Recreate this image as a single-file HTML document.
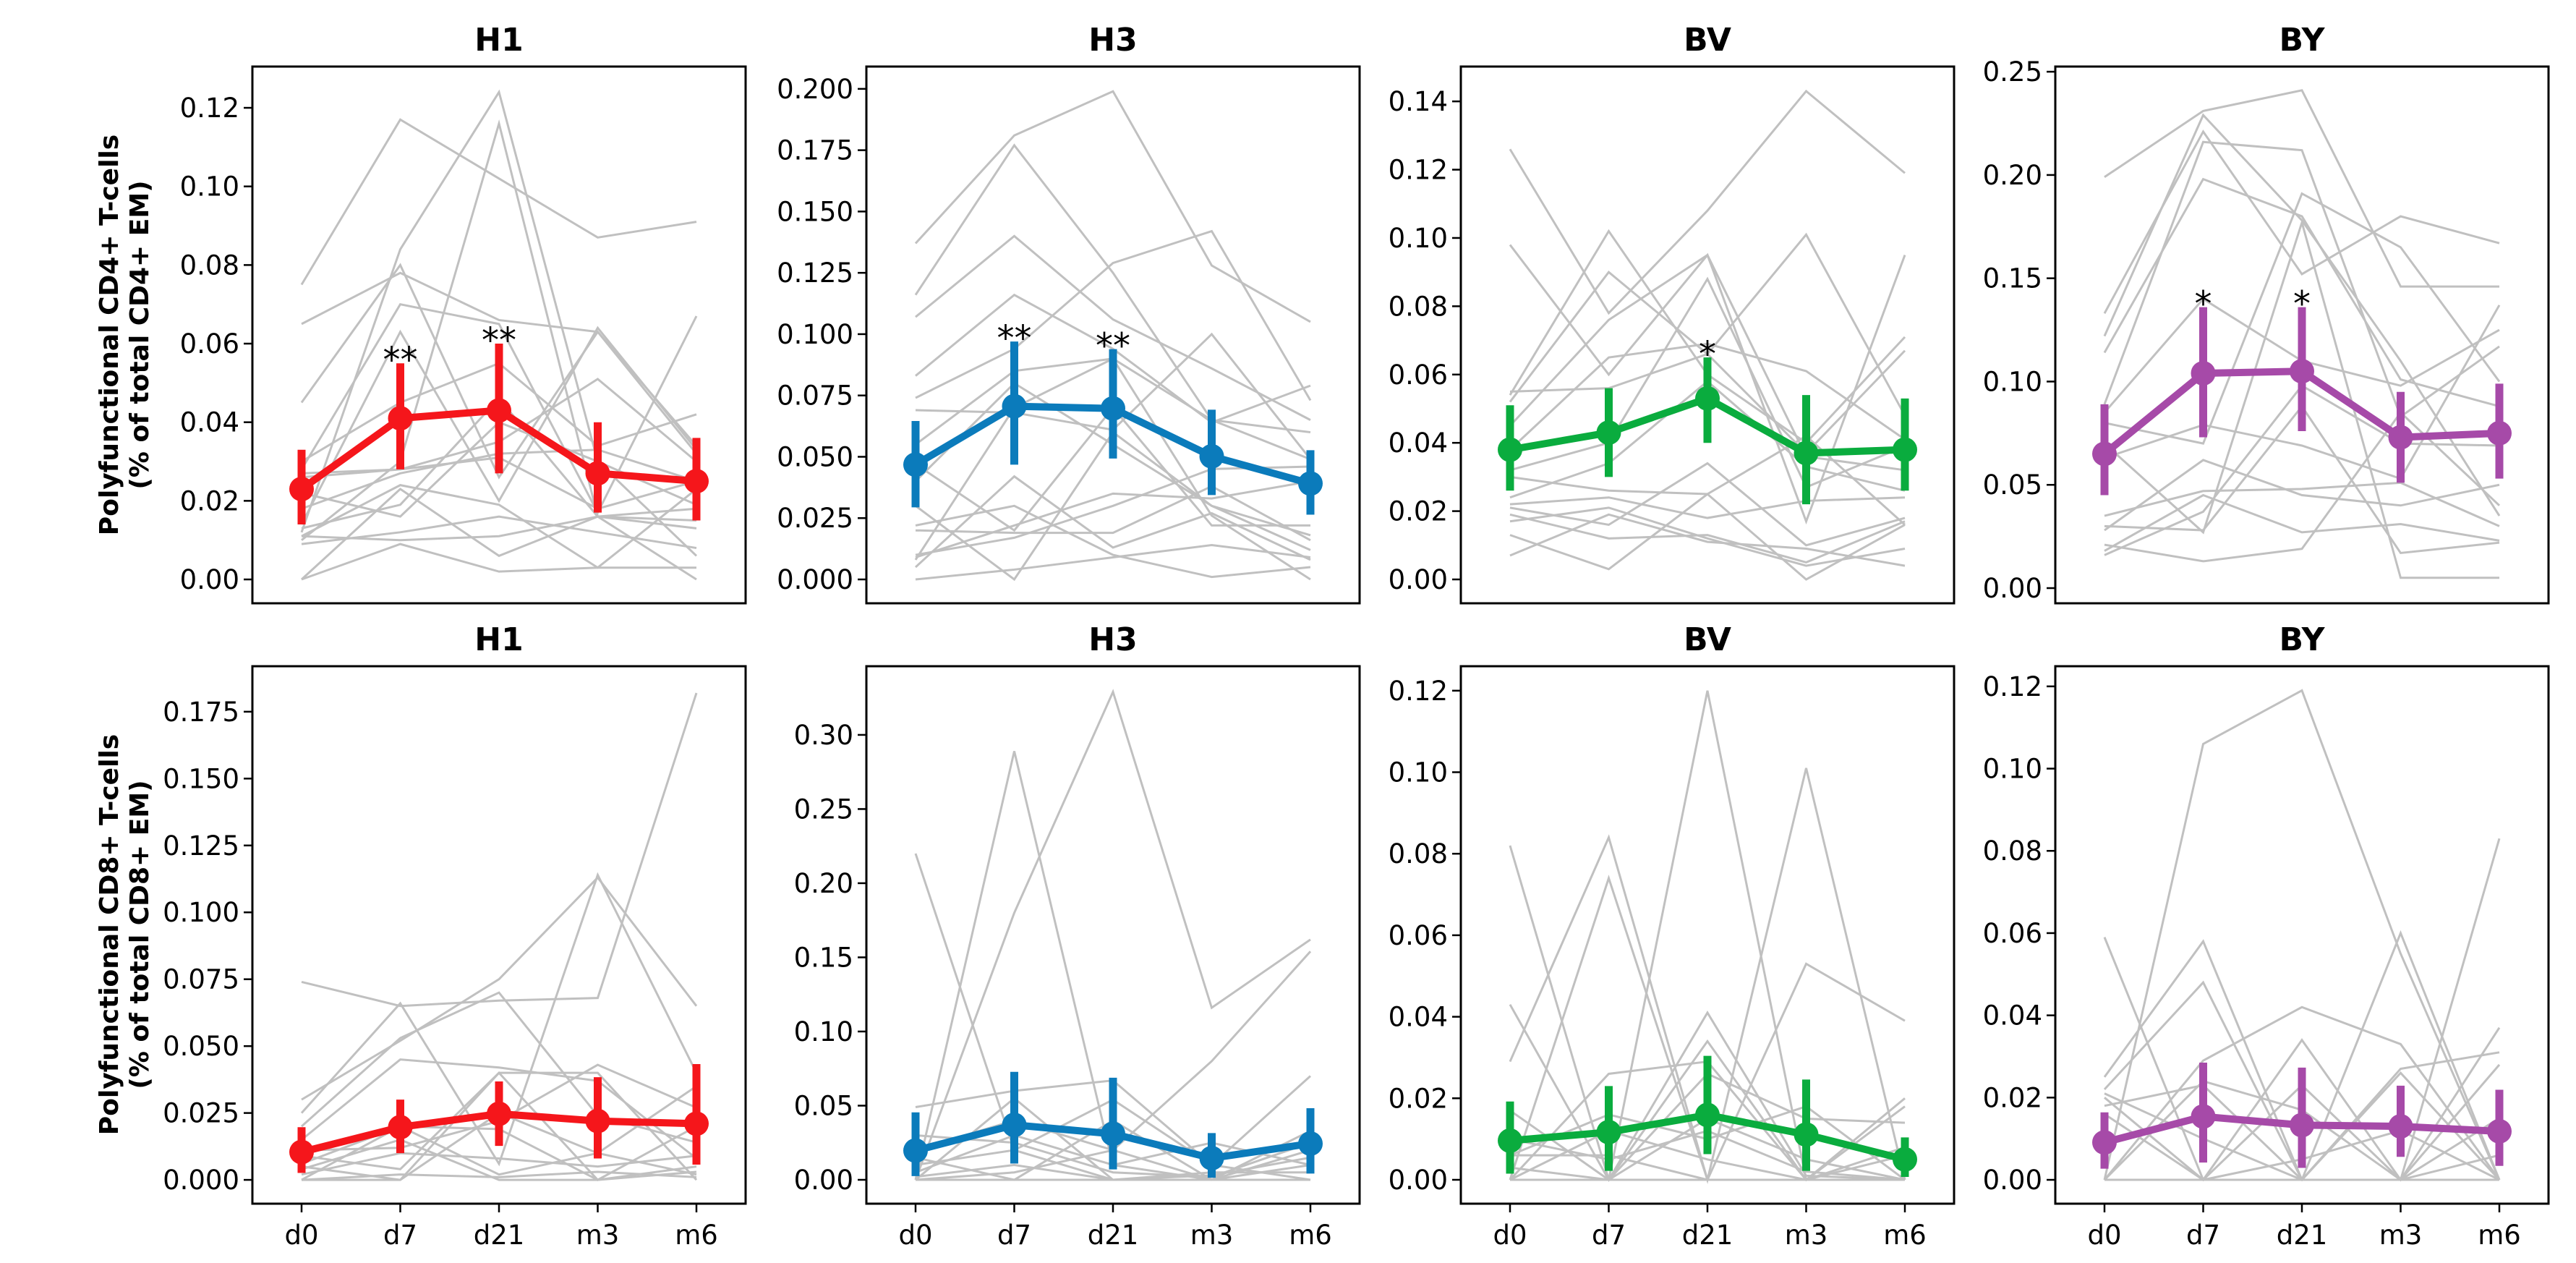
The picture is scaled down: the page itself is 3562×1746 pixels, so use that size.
<!DOCTYPE html>
<html><head><meta charset="utf-8"><style>
html,body{margin:0;padding:0;background:#fff;}
svg{display:block;font-family:"DejaVu Sans","Liberation Sans",sans-serif;}
</style></head><body>
<svg id="fig" width="3562" height="1746" viewBox="0 0 3562 1746" xmlns="http://www.w3.org/2000/svg">
<rect width="3562" height="1746" fill="#fff"/>
<text transform="translate(163,463) rotate(-90)" text-anchor="middle" font-weight="bold" font-size="36">Polyfunctional CD4+ T-cells</text>
<text transform="translate(205,463) rotate(-90)" text-anchor="middle" font-weight="bold" font-size="36">(% of total CD4+ EM)</text>
<text transform="translate(163,1292) rotate(-90)" text-anchor="middle" font-weight="bold" font-size="36">Polyfunctional CD8+ T-cells</text>
<text transform="translate(205,1292) rotate(-90)" text-anchor="middle" font-weight="bold" font-size="36">(% of total CD8+ EM)</text>
</svg>
<script>
const categories = ["d0","d7","d21","m3","m6"];
const titles = ["H1","H3","BV","BY"];
const colors = ["#f5161b","#0b7bbb","#0aac3e","#a64aa8"];

const meanTopH1 = [0.023,0.041,0.043,0.027,0.025];
const lowTopH1 = [0.014,0.028,0.027,0.017,0.015];
const highTopH1 = [0.033,0.055,0.060,0.040,0.036];
const meanTopH3 = [0.0468,0.0706,0.0697,0.0502,0.0391];
const lowTopH3 = [0.0294,0.0468,0.0493,0.0344,0.0264];
const highTopH3 = [0.0646,0.097,0.0939,0.0692,0.0527];
const meanTopBV = [0.038,0.043,0.053,0.037,0.038];
const lowTopBV = [0.026,0.030,0.040,0.022,0.026];
const highTopBV = [0.051,0.056,0.065,0.054,0.053];
const meanTopBY = [0.065,0.104,0.105,0.073,0.075];
const lowTopBY = [0.045,0.073,0.076,0.051,0.053];
const highTopBY = [0.089,0.136,0.136,0.095,0.099];

const meanBotH1 = [0.0104,0.0197,0.0247,0.022,0.021];
const lowBotH1 = [0.0026,0.010,0.0127,0.008,0.0057];
const highBotH1 = [0.0197,0.030,0.0368,0.0384,0.0433];
const meanBotH3 = [0.0197,0.037,0.031,0.0146,0.0244];
const lowBotH3 = [0.0025,0.011,0.007,0.0014,0.0042];
const highBotH3 = [0.0455,0.0728,0.0688,0.0315,0.0483];
const meanBotBV = [0.0096,0.0117,0.0159,0.0111,0.005];
const lowBotBV = [0.0015,0.0022,0.0063,0.0022,0.0007];
const highBotBV = [0.0192,0.023,0.0304,0.0246,0.0104];
const meanBotBY = [0.0091,0.0154,0.0133,0.013,0.0118];
const lowBotBY = [0.0027,0.0042,0.0029,0.0056,0.0034];
const highBotBY = [0.0164,0.0285,0.0273,0.0229,0.0219];

const starsTopH1 = ["","**","**","",""];
const starsTopH3 = ["","**","**","",""];
const starsTopBV = ["","","*","",""];
const starsTopBY = ["","*","*","",""];
const starsNone = ["","","","",""];

const ticksTopH1 = ["0.00","0.02","0.04","0.06","0.08","0.10","0.12"];
const ticksTopH3 = ["0.000","0.025","0.050","0.075","0.100","0.125","0.150","0.175","0.200"];
const ticksTopBV = ["0.00","0.02","0.04","0.06","0.08","0.10","0.12","0.14"];
const ticksTopBY = ["0.00","0.05","0.10","0.15","0.20","0.25"];
const ticksBotH1 = ["0.000","0.025","0.050","0.075","0.100","0.125","0.150","0.175"];
const ticksBotH3 = ["0.00","0.05","0.10","0.15","0.20","0.25","0.30"];
const ticksBotBV = ["0.00","0.02","0.04","0.06","0.08","0.10","0.12"];
const ticksBotBY = ["0.00","0.02","0.04","0.06","0.08","0.10","0.12"];

const ylimTop = [[-0.00607,0.1305],[-0.00973,0.2091],[-0.00699,0.1502],[-0.00735,0.2525]];
const ylimBot = [[-0.0089,0.192],[-0.0161,0.3463],[-0.00586,0.126],[-0.0058,0.1249]];

const subjTopH1 = [
[0.075,0.117,0.102,0.087,0.091],[0.065,0.078,0.066,0.063,0.034],[0.045,0.080,0.026,0.063,0.032],
[0.012,0.084,0.124,0.030,0.006],[0.010,0.030,0.116,0.016,0.018],[0.028,0.070,0.065,0.017,0.067],
[0.014,0.063,0.020,0.064,0.033],[0.030,0.045,0.055,0.034,0.042],[0.027,0.028,0.035,0.051,0.030],
[0.022,0.016,0.040,0.030,0.019],[0.013,0.019,0.046,0.016,0.015],[0.011,0.010,0.011,0.016,0.013],
[0.009,0.012,0.016,0.012,0.008],[0.000,0.009,0.002,0.003,0.003],[0.000,0.023,0.006,0.016,0.000],
[0.018,0.027,0.032,0.033,0.025],[0.011,0.024,0.019,0.003,0.023],[0.026,0.028,0.031,0.018,0.025]];
const subjTopH3 = [
[0.137,0.181,0.199,0.128,0.105],[0.116,0.177,0.125,0.065,0.060],[0.107,0.140,0.106,0.086,0.065],
[0.083,0.116,0.094,0.064,0.079],[0.074,0.094,0.129,0.142,0.073],[0.069,0.068,0.061,0.100,0.049],
[0.055,0.085,0.090,0.065,0.049],[0.047,0.020,0.070,0.022,0.022],[0.040,0.080,0.055,0.030,0.018],
[0.030,0.000,0.060,0.030,0.012],[0.020,0.019,0.019,0.038,0.016],[0.010,0.017,0.030,0.045,0.046],
[0.009,0.022,0.035,0.033,0.040],[0.005,0.042,0.013,0.027,0.008],[0.000,0.004,0.009,0.014,0.009],
[0.022,0.030,0.010,0.001,0.005],[0.008,0.070,0.090,0.026,0.000]];
const subjTopBV = [
[0.126,0.078,0.108,0.143,0.119],[0.098,0.060,0.095,0.017,0.095],[0.055,0.056,0.066,0.101,0.048],
[0.054,0.102,0.060,0.040,0.071],[0.052,0.090,0.066,0.037,0.067],[0.045,0.076,0.095,0.036,0.032],
[0.038,0.065,0.069,0.061,0.041],[0.032,0.040,0.088,0.027,0.039],[0.030,0.026,0.025,0.042,0.016],
[0.022,0.024,0.018,0.023,0.024],[0.021,0.016,0.034,0.010,0.018],[0.019,0.012,0.013,0.005,0.017],
[0.017,0.021,0.012,0.004,0.009],[0.013,0.003,0.025,0.000,0.016],[0.007,0.019,0.011,0.009,0.004],
[0.024,0.034,0.058,0.033,0.026]];
const subjTopBY = [
[0.199,0.231,0.241,0.146,0.146],[0.122,0.229,0.178,0.110,0.035],[0.133,0.221,0.152,0.180,0.167],
[0.114,0.198,0.180,0.101,0.088],[0.089,0.216,0.212,0.083,0.117],[0.085,0.140,0.110,0.098,0.125],
[0.080,0.070,0.191,0.165,0.100],[0.070,0.027,0.177,0.005,0.005],[0.063,0.079,0.069,0.053,0.137],
[0.035,0.047,0.048,0.051,0.030],[0.030,0.028,0.088,0.017,0.022],[0.028,0.062,0.045,0.040,0.050],
[0.021,0.013,0.019,0.085,0.040],[0.018,0.045,0.027,0.031,0.023],[0.016,0.037,0.098,0.070,0.069]];
const subjBotH1 = [
[0.074,0.065,0.067,0.068,0.182],[0.030,0.052,0.075,0.113,0.065],[0.025,0.066,0.006,0.114,0.040],
[0.020,0.053,0.070,0.024,0.014],[0.015,0.045,0.042,0.037,0.008],[0.011,0.012,0.022,0.043,0.027],
[0.005,0.000,0.040,0.040,0.000],[0.009,0.004,0.040,0.000,0.020],[0.002,0.010,0.008,0.005,0.009],
[0.000,0.002,0.001,0.003,0.001],[0.000,0.000,0.025,0.010,0.035],[0.006,0.020,0.002,0.010,0.002],
[0.004,0.015,0.000,0.000,0.003],[0.000,0.020,0.019,0.000,0.005]];
const subjBotH3 = [
[0.220,0.020,0.000,0.000,0.010],[0.049,0.060,0.067,0.010,0.000],[0.000,0.289,0.010,0.000,0.033],
[0.000,0.180,0.329,0.116,0.162],[0.020,0.040,0.020,0.080,0.154],[0.010,0.020,0.054,0.010,0.070],
[0.005,0.030,0.010,0.025,0.010],[0.000,0.055,0.000,0.005,0.005],[0.015,0.000,0.040,0.000,0.020],
[0.002,0.010,0.000,0.003,0.015],[0.000,0.005,0.020,0.000,0.000],[0.030,0.025,0.005,0.002,0.025],
[0.000,0.000,0.000,0.000,0.000]];
const subjBotBV = [
[0.082,0.000,0.120,0.000,0.000],[0.043,0.000,0.041,0.001,0.000],[0.029,0.084,0.000,0.101,0.000],
[0.000,0.074,0.000,0.053,0.039],[0.000,0.026,0.029,0.000,0.020],[0.017,0.000,0.034,0.000,0.018],
[0.006,0.016,0.010,0.018,0.000],[0.000,0.000,0.026,0.015,0.014],[0.006,0.006,0.000,0.000,0.008],
[0.000,0.012,0.005,0.000,0.006],[0.003,0.000,0.015,0.005,0.000],[0.000,0.000,0.000,0.000,0.000],
[0.010,0.005,0.012,0.002,0.000]];
const subjBotBY = [
[0.059,0.000,0.000,0.060,0.000],[0.000,0.106,0.119,0.055,0.000],[0.025,0.058,0.000,0.000,0.083],
[0.022,0.048,0.000,0.000,0.037],[0.000,0.029,0.042,0.033,0.000],[0.018,0.023,0.000,0.027,0.031],
[0.020,0.000,0.034,0.000,0.028],[0.000,0.024,0.017,0.000,0.015],[0.021,0.010,0.000,0.026,0.000],
[0.000,0.000,0.023,0.000,0.006],[0.016,0.000,0.005,0.012,0.000],[0.000,0.000,0.000,0.000,0.000]];

const NS = "http://www.w3.org/2000/svg";
const svg = document.getElementById("fig");
const colLeft = [349,1198,2020,2842];
const panelW = 682;
const rows = [{top:92,bottom:834,titleY:70},{top:921,bottom:1664,titleY:899}];

function mk(tag, attrs, parent){
  const e = document.createElementNS(NS, tag);
  for (const k in attrs) e.setAttribute(k, attrs[k]);
  (parent||svg).appendChild(e);
  return e;
}

function drawPanel(r, c, subj, mean, low, high, stars, ticks, ylim, showX){
  const row = rows[r];
  const L = colLeft[c], R = L + panelW, T = row.top, B = row.bottom;
  const g = mk("g", {});
  
  
  const xScale = i => L + 68 + i * 136.5;
  const yScale = v => B - (v - ylim[0]) / (ylim[1] - ylim[0]) * (B - T);

  const title = mk("text", {x:(L+R)/2, y:row.titleY, "text-anchor":"middle", "font-weight":"bold", "font-size":"44"}, g);
  title.textContent = titles[c];
  
  

  subj.forEach((s) => {
    const pl = mk("polyline", {points: s.map((v,i)=>xScale(i)+","+yScale(v)).join(" "), fill:"none", stroke:"#c0c0c0", "stroke-width":"3"}, g);
    
    
  });

  ticks.forEach((t) => {
    const v = parseFloat(t);
    const y = yScale(v);
    const tk = mk("line", {x1:L-12, x2:L, y1:y, y2:y, stroke:"#000", "stroke-width":"2.5"}, g);
    
    
    const tl = mk("text", {x:L-18, y:y+13, "text-anchor":"end", "font-size":"37"}, g);
    tl.textContent = t;
    
    
  });

  if (showX) {
    categories.forEach((cat, i) => {
      const x = xScale(i);
      const tk = mk("line", {x1:x, x2:x, y1:B, y2:B+12, stroke:"#000", "stroke-width":"2.5"}, g);
      
      
      const tl = mk("text", {x:x, y:B+56, "text-anchor":"middle", "font-size":"37"}, g);
      tl.textContent = cat;
      
      
    });
  }

  const col = colors[c];
  mean.forEach((m, i) => {
    const eb = mk("line", {x1:xScale(i), x2:xScale(i), y1:yScale(low[i]), y2:yScale(high[i]), stroke:col, "stroke-width":"11"}, g);
    
    
  });
  const ml = mk("polyline", {points: mean.map((v,i)=>xScale(i)+","+yScale(v)).join(" "), fill:"none", stroke:col, "stroke-width":"10", "stroke-linejoin":"round"}, g);
  
  
  mean.forEach((m, i) => {
    const pt = mk("circle", {cx:xScale(i), cy:yScale(m), r:"17", fill:col}, g);
    
    
    if (stars[i]) {
      const st = mk("text", {x:xScale(i), y:yScale(high[i]) + 12, "text-anchor":"middle", "font-size":"48"}, g);
      st.textContent = stars[i];
      
      
    }
  });

  const fr = mk("rect", {x:L, y:T, width:R-L, height:B-T, fill:"none", stroke:"#000", "stroke-width":"3"}, g);
  
  
}

drawPanel(0,0,subjTopH1,meanTopH1,lowTopH1,highTopH1,starsTopH1,ticksTopH1,ylimTop[0],false);
drawPanel(0,1,subjTopH3,meanTopH3,lowTopH3,highTopH3,starsTopH3,ticksTopH3,ylimTop[1],false);
drawPanel(0,2,subjTopBV,meanTopBV,lowTopBV,highTopBV,starsTopBV,ticksTopBV,ylimTop[2],false);
drawPanel(0,3,subjTopBY,meanTopBY,lowTopBY,highTopBY,starsTopBY,ticksTopBY,ylimTop[3],false);
drawPanel(1,0,subjBotH1,meanBotH1,lowBotH1,highBotH1,starsNone,ticksBotH1,ylimBot[0],true);
drawPanel(1,1,subjBotH3,meanBotH3,lowBotH3,highBotH3,starsNone,ticksBotH3,ylimBot[1],true);
drawPanel(1,2,subjBotBV,meanBotBV,lowBotBV,highBotBV,starsNone,ticksBotBV,ylimBot[2],true);
drawPanel(1,3,subjBotBY,meanBotBY,lowBotBY,highBotBY,starsNone,ticksBotBY,ylimBot[3],true);
</script>
</body></html>
